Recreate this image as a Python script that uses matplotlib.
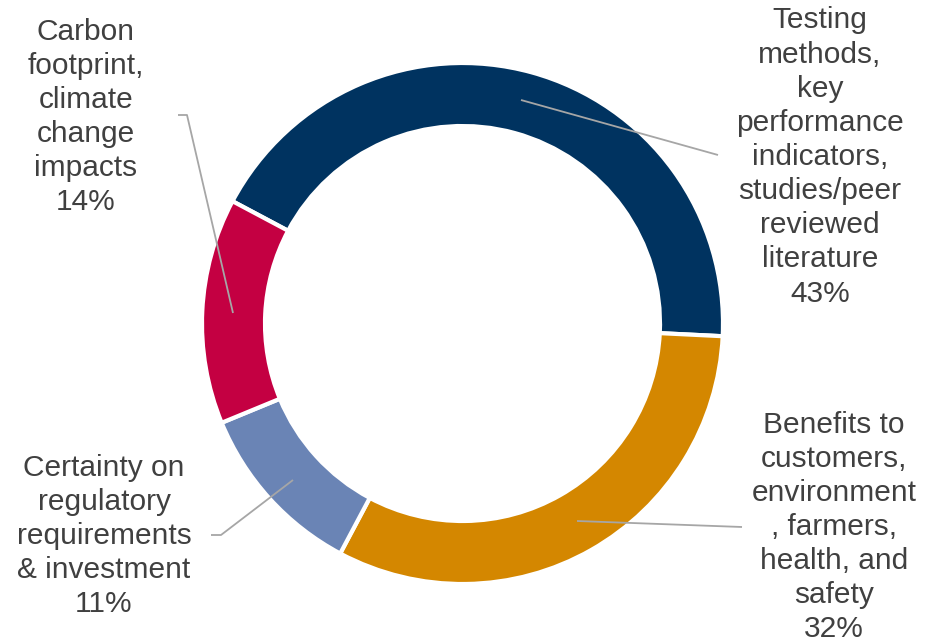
import matplotlib
matplotlib.use('Agg')
import matplotlib.pyplot as plt

# share of responses per theme (clockwise, starting with the navy slice)
labels = [
    'Testing\nmethods,\nkey\nperformance\nindicators,\nstudies/peer\nreviewed\nliterature',
    'Benefits to\ncustomers,\nenvironment\n, farmers,\nhealth, and\nsafety',
    'Certainty on\nregulatory\nrequirements\n& investment',
    'Carbon\nfootprint,\nclimate\nchange\nimpacts',
]
values = [43, 32, 11, 14]
colors = ['#003360', '#D48700', '#6A84B5', '#C40042']

W, H = 942, 644
CX, CY = 462.5, H - 323.5
R = 260.5
RING = 63

# label centres and leader polylines, in pixel coords (y down)
label_pos = [(820, 157), (834, 527), (104, 536), (86, 117)]
leaders = [
    [(521, 100), (718, 155)],
    [(577, 521), (742, 527)],
    [(293, 480), (221, 535), (211, 535)],
    [(233, 313), (187, 115), (178, 115)],
]

fig = plt.figure(figsize=(W / 100, H / 100), dpi=100)
ax = fig.add_axes([0, 0, 1, 1])

ax.pie(values, colors=colors, startangle=152, counterclock=False,
       radius=R, center=(CX, CY),
       wedgeprops=dict(width=RING, edgecolor='white', linewidth=3))

for pts in leaders:
    xs = [p[0] for p in pts]
    ys = [H - p[1] for p in pts]
    ax.plot(xs, ys, color='#A6A6A6', lw=1.3, solid_capstyle='butt', zorder=3)

for lab, val, (x, y) in zip(labels, values, label_pos):
    ax.text(x, H - y, f'{lab}\n{val}%', ha='center', va='center',
            fontsize=21.5, family=['Liberation Sans', 'DejaVu Sans'],
            color='#404040', linespacing=1.28)

ax.set_xlim(0, W)
ax.set_ylim(0, H)
ax.set_aspect('equal')
ax.axis('off')

fig.savefig('out.png', dpi=100, facecolor='white')
